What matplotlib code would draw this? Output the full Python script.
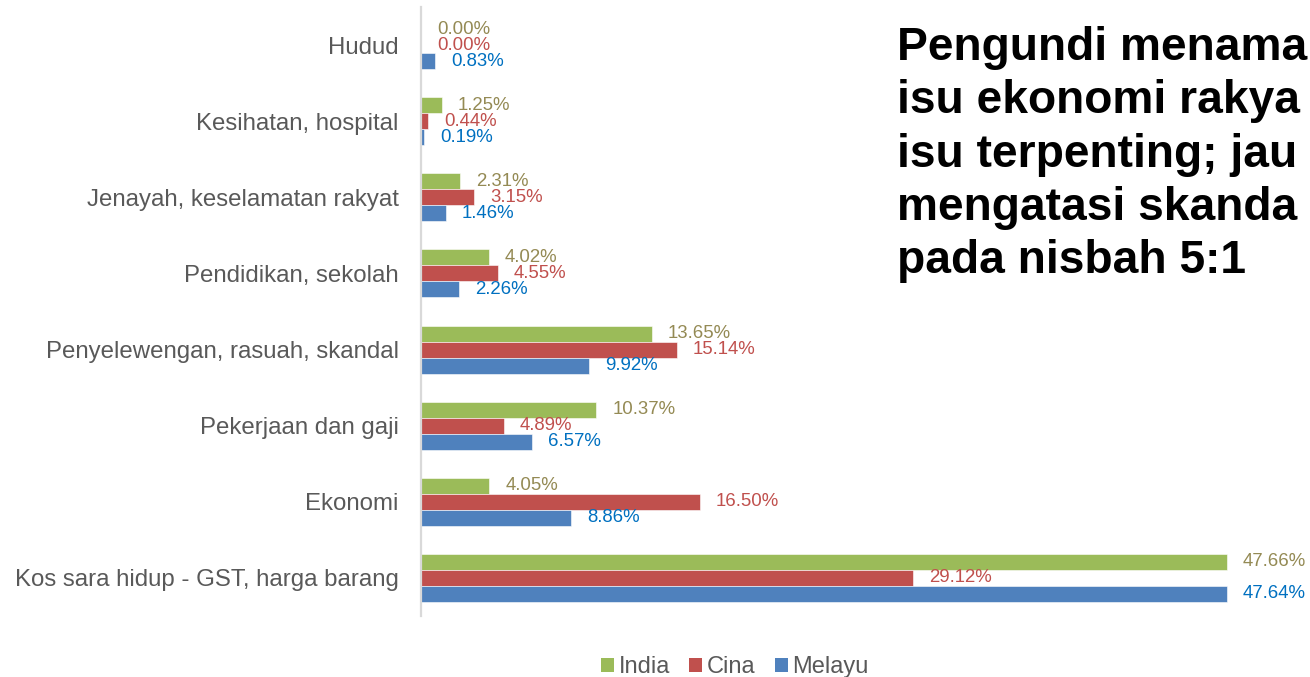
import matplotlib
matplotlib.use("Agg")
import matplotlib.pyplot as plt
from matplotlib.patches import Patch
import numpy as np

plt.rcParams['font.family'] = ['Liberation Sans', 'DejaVu Sans']

categories = ["Hudud", "Kesihatan, hospital", "Jenayah, keselamatan rakyat",
              "Pendidikan, sekolah", "Penyelewengan, rasuah, skandal",
              "Pekerjaan dan gaji", "Ekonomi", "Kos sara hidup - GST, harga barang"]
india = [0.00, 1.25, 2.31, 4.02, 13.65, 10.37, 4.05, 47.66]
cina = [0.00, 0.44, 3.15, 4.55, 15.14, 4.89, 16.50, 29.12]
melayu = [0.83, 0.19, 1.46, 2.26, 9.92, 6.57, 8.86, 47.64]
series_names = ["India", "Cina", "Melayu"]
# Title text as visible in the reference (cut at the right edge there)
title_lines = ["Pengundi menama", "isu ekonomi rakya",
               "isu terpenting; jau", "mengatasi skanda",
               "pada nisbah 5:1"]

bar_colors = ["#9BBB59", "#C0504D", "#4F81BD"]
label_colors = ["#948A54", "#C0504D", "#0070C0"]

W, H = 1310, 677
fig = plt.figure(figsize=(W / 100, H / 100), dpi=100)
ax_left, ax_top, ax_bot = 421, 7, 616
ax = fig.add_axes([ax_left / W, (H - ax_bot) / H, (W - ax_left) / W, (ax_bot - ax_top) / H])
px_per_unit = 16.91
ax.set_xlim(0, (W - ax_left) / px_per_unit)
ax.set_ylim(-0.5, len(categories) - 0.5)
ax.invert_yaxis()

y = np.arange(len(categories))
h = 0.21
offsets = [-h, 0, h]
for vals, off, bc, lc in zip([india, cina, melayu], offsets, bar_colors, label_colors):
    ax.barh(y + off, vals, height=h, color=bc, edgecolor='white', linewidth=0.4)
    for yi, v in zip(y, vals):
        ax.annotate(f"{v:.2f}%", xy=(v, yi + off), xytext=(11.5, 0),
                    textcoords='offset points', ha='left', va='center',
                    fontsize=13.4, color=lc, clip_on=False)

ax.set_yticks(y)
ax.set_yticklabels(categories, fontsize=17.3, color='#595959')
ax.tick_params(axis='y', length=0, pad=16)
ax.set_xticks([])
for s in ['top', 'right', 'bottom']:
    ax.spines[s].set_visible(False)
ax.spines['left'].set_color('#D9D9D9')
ax.spines['left'].set_linewidth(1.6)

handles = [Patch(facecolor=c, edgecolor='none') for c in bar_colors]
fig.legend(handles, series_names, loc='center', bbox_to_anchor=(735 / W, (H - 667) / H),
           ncol=3, frameon=False, fontsize=17, labelcolor='#595959',
           handlelength=0.55, handleheight=0.55, handletextpad=0.2, columnspacing=0.8)

for i, line in enumerate(title_lines):
    fig.text(897 / W, (H - (60 + 53.3 * i)) / H, line, fontsize=33.2, fontweight='bold',
             color='black', ha='left', va='baseline')

fig.savefig("out.png", dpi=100)
